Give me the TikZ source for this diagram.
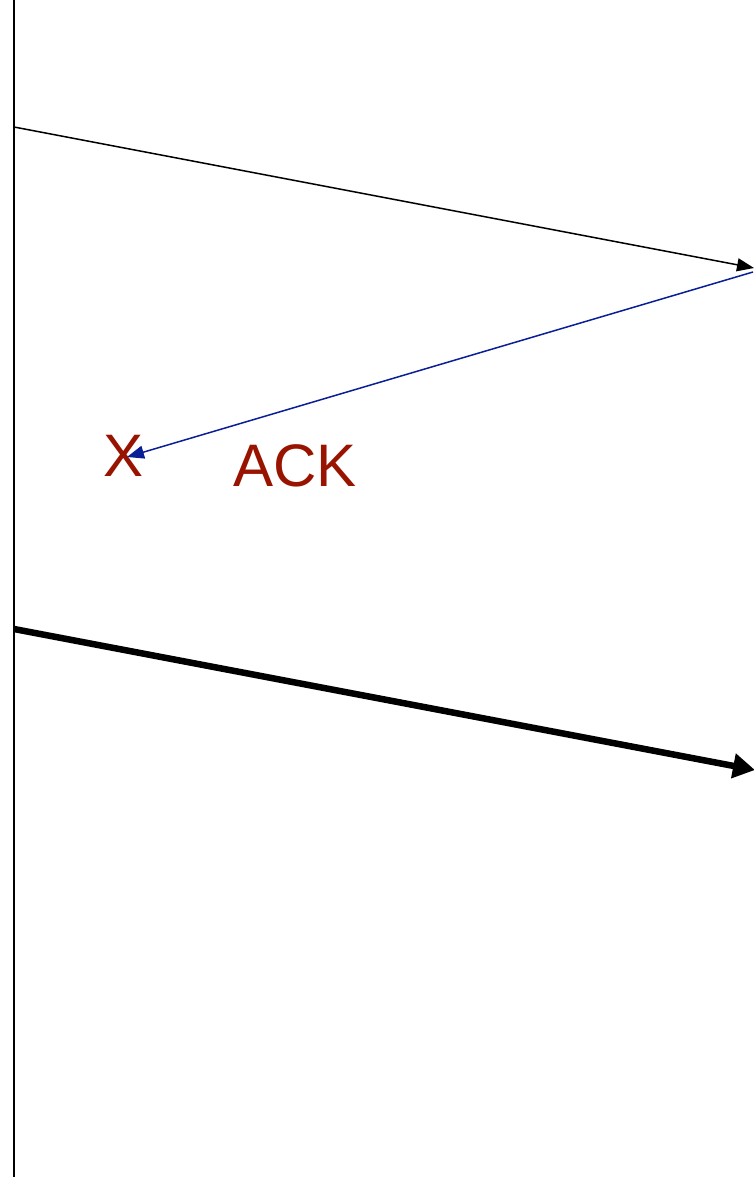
\documentclass[tikz,border=0pt]{standalone}
\usepackage{fontspec}
\setmainfont{Liberation Sans}
\usetikzlibrary{arrows.meta}
\definecolor{lblred}{HTML}{991400}
\definecolor{ackblue}{HTML}{0A1E96}
\begin{document}
\begin{tikzpicture}[x=1pt,y=-1pt,
  lbl/.style={text=lblred,font=\fontsize{60}{60}\selectfont,inner sep=0pt,anchor=base},
  thinmsg/.style={line width=1.5pt,-{Triangle[length=17pt,width=13pt]}},
  thickmsg/.style={line width=6.5pt,-{Triangle[length=22pt,width=24pt]}}]
\useasboundingbox (0,0) rectangle (753,1177);
\coordinate (top) at (14,0);
\coordinate (bot) at (14,1177);
\draw[line width=1.6pt] (top) -- (bot);
\coordinate (s1) at (14,127);
\coordinate (r1) at (754,268);
\coordinate (r2) at (753,272);
\coordinate (s2) at (14,629);
\coordinate (r3) at (755,770);
\node[lbl] (x) at (124,476) {X};
\node[lbl] (ack) at (295,486) {ACK};
\coordinate (lost) at (127,457);
\draw[thinmsg] (s1) -- (r1);
\draw[thinmsg,draw=ackblue,fill=ackblue] (r2) -- (lost);
\draw[thickmsg] (s2) -- (r3);
\end{tikzpicture}
\end{document}
